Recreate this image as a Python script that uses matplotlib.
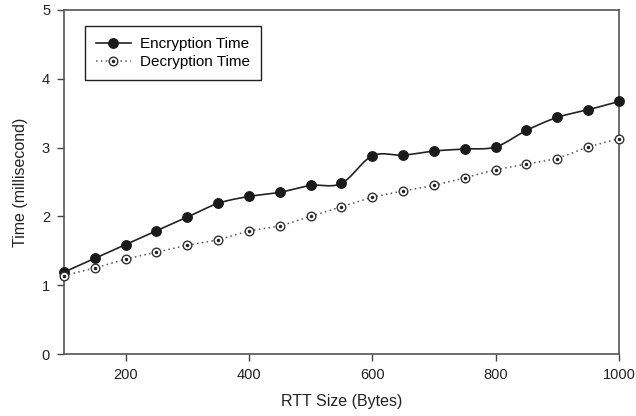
import numpy as np
import matplotlib
matplotlib.use("Agg")
import matplotlib.pyplot as plt
from matplotlib.lines import Line2D

plt.rcParams['font.family'] = ['Liberation Sans', 'DejaVu Sans']

rtt_size = [100, 150, 200, 250, 300, 350, 400, 450, 500, 550,
            600, 650, 700, 750, 800, 850, 900, 950, 1000]
encryption_time = [1.19, 1.39, 1.59, 1.79, 1.99, 2.19, 2.29, 2.35, 2.45, 2.48,
                   2.88, 2.89, 2.95, 2.98, 3.01, 3.25, 3.44, 3.55, 3.67]
decryption_time = [1.14, 1.25, 1.38, 1.48, 1.58, 1.66, 1.79, 1.86, 2.00, 2.14,
                   2.28, 2.37, 2.45, 2.56, 2.68, 2.76, 2.84, 3.01, 3.13]


def smooth_curve(x, y, n=20):
    """Catmull-Rom curve through the given points."""
    x = np.asarray(x, float)
    y = np.asarray(y, float)
    px = np.concatenate([[2 * x[0] - x[1]], x, [2 * x[-1] - x[-2]]])
    py = np.concatenate([[2 * y[0] - y[1]], y, [2 * y[-1] - y[-2]]])
    xs, ys = [], []
    t = np.linspace(0, 1, n, endpoint=False)
    for i in range(1, len(px) - 2):
        for arr, out in ((px, xs), (py, ys)):
            p0, p1, p2, p3 = arr[i - 1:i + 3]
            out.append(0.5 * ((2 * p1) + (-p0 + p2) * t
                              + (2 * p0 - 5 * p1 + 4 * p2 - p3) * t ** 2
                              + (-p0 + 3 * p1 - 3 * p2 + p3) * t ** 3))
    xs = np.concatenate(xs + [[x[-1]]])
    ys = np.concatenate(ys + [[y[-1]]])
    return xs, ys


fig = plt.figure(figsize=(6.36, 4.16), dpi=100)
ax = fig.add_axes([0.1006, 0.149, 0.8726, 0.827])

cx, cy = smooth_curve(rtt_size, encryption_time)
ax.plot(cx, cy, color='#222222', lw=1.2, zorder=2, clip_on=False)
ax.plot(rtt_size, encryption_time, ls='none', marker='o', ms=6.8,
        mfc='#1a1a1a', mec='#1a1a1a', zorder=3, clip_on=False)

ax.plot(rtt_size, decryption_time, color='#555555', lw=1.1, ls=(0, (1, 2.2)),
        zorder=2)
ax.plot(rtt_size, decryption_time, ls='none', marker='o', ms=6.2,
        mfc='white', mec='#333333', mew=1.0, zorder=3, clip_on=False)
ax.plot(rtt_size, decryption_time, ls='none', marker='o', ms=1.5,
        mfc='#222222', mec='#222222', zorder=4, clip_on=False)

ax.set_xlim(100, 1000)
ax.set_ylim(0, 5)
ax.set_xticks([200, 400, 600, 800, 1000])
ax.set_yticks([0, 1, 2, 3, 4, 5])
ax.tick_params(direction='out', length=5, width=1, color='#444444',
               labelsize=10.5, labelcolor='#222222', pad=5)
for s in ax.spines.values():
    s.set_color('#555555')
    s.set_linewidth(1.2)

ax.set_xlabel('RTT Size (Bytes)', fontsize=11.5, color='#222222', labelpad=9)
ax.set_ylabel('Time (millisecond)', fontsize=11.5, color='#222222', labelpad=10)

enc_handle = Line2D([], [], color='#222222', lw=1.2, marker='o', ms=6.8,
                    mfc='#1a1a1a', mec='#1a1a1a')
dec_ring = Line2D([], [], color='#555555', lw=1.1, ls=(0, (1, 2.2)),
                  marker='o', ms=6.2, mfc='white', mec='#333333')
dec_dot = Line2D([], [], ls='none', marker='o', ms=1.5,
                 mfc='#222222', mec='#222222')
leg = ax.legend([enc_handle, (dec_ring, dec_dot)],
                ['Encryption Time', 'Decryption Time'],
                loc='upper left', bbox_to_anchor=(0.038, 0.952),
                borderaxespad=0,
                fontsize=11, frameon=True, fancybox=False, framealpha=1,
                edgecolor='#222222', handlelength=2.3, borderpad=0.7,
                labelspacing=0.25, handletextpad=0.6)
leg.get_frame().set_linewidth(1.0)

fig.savefig('out.png', dpi=100)
